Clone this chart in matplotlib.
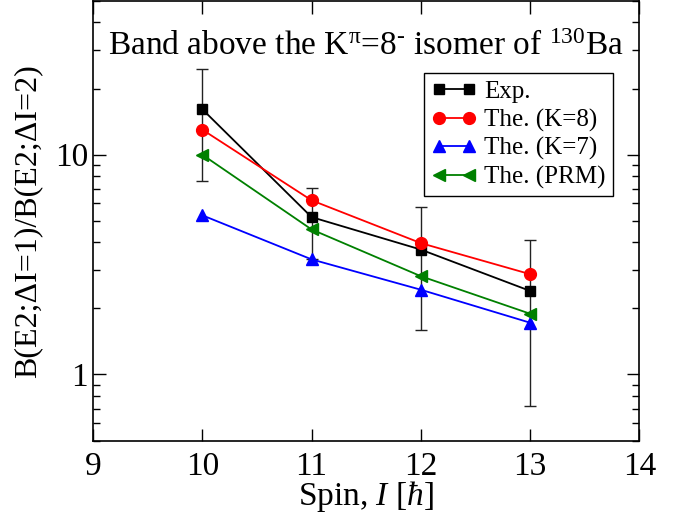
import numpy as np
import matplotlib
matplotlib.use("Agg")
import matplotlib.pyplot as plt
from matplotlib.ticker import LogLocator, NullFormatter, FixedLocator, FixedFormatter

plt.rcParams['font.family'] = ['Liberation Serif', 'DejaVu Serif']
plt.rcParams['mathtext.fontset'] = 'custom'
plt.rcParams['mathtext.rm'] = 'Liberation Serif'
plt.rcParams['mathtext.it'] = 'Liberation Serif:italic'

spin = [10, 11, 12, 13]
exp_val = [16.1, 5.2, 3.7, 2.4]
exp_err = [8.5, 1.85, 2.1, 1.68]
the_k8 = [13.0, 6.2, 3.96, 2.86]
the_k7 = [5.3, 3.34, 2.43, 1.72]
the_prm = [10.0, 4.57, 2.80, 1.89]

fig = plt.figure(figsize=(6.89, 5.16), dpi=100)
ax = fig.add_axes([0.135, 0.146, 0.793, 0.852])

ax.errorbar(spin, exp_val, yerr=exp_err, fmt='none', ecolor='#222222',
            elinewidth=1.0, capsize=4.5, capthick=1.0, zorder=2)
ax.plot(spin, exp_val, '-s', color='black', lw=1.3, ms=7.5, label='Exp.', zorder=3)
ax.plot(spin, the_k8, '-o', color='red', lw=1.3, ms=8.5, label='The. (K=8)', zorder=4)
ax.plot(spin, the_k7, '-^', color='blue', lw=1.3, ms=8, label='The. (K=7)', zorder=3)
ax.plot(spin, the_prm, '-<', color='green', lw=1.3, ms=8, label='The. (PRM)', zorder=3)

ax.set_yscale('log')
ax.set_xlim(9, 14)
ax.set_ylim(0.5, 50)
ax.set_xticks([9, 10, 11, 12, 13, 14])
ax.yaxis.set_major_locator(FixedLocator([1, 10]))
ax.yaxis.set_major_formatter(FixedFormatter(['1', '10']))
ax.yaxis.set_minor_locator(LogLocator(base=10, subs=np.arange(2, 10), numticks=20))
ax.yaxis.set_minor_formatter(NullFormatter())

ax.tick_params(which='both', direction='in', top=True, right=True, labelsize=24, width=1.0)
ax.tick_params(which='major', length=9)
ax.tick_params(which='minor', length=5)
ax.tick_params(axis='x', pad=8)
for s in ax.spines.values():
    s.set_linewidth(1.2)

ax.set_xlabel('Spin, $I$ [$\\hbar$]', fontsize=24, labelpad=-2)
ax.set_ylabel('B(E2;\u0394I=1)/B(E2;\u0394I=2)', fontsize=23, labelpad=9)

ax.text(0.5, 0.877, 'Band above the K$^{\\mathrm{\u03c0}}$=8$^{\\mathrm{\u2010}}$ isomer of $^{130}$Ba',
        transform=ax.transAxes, ha='center', va='baseline', fontsize=24)

leg = ax.legend(loc='upper right', bbox_to_anchor=(0.952, 0.836), borderaxespad=0,
                fontsize=18, numpoints=2, handlelength=1.8, handletextpad=0.3,
                labelspacing=0.22, borderpad=0.3, fancybox=False, framealpha=1,
                edgecolor='black')
leg.get_frame().set_linewidth(1.0)

fig.savefig('out.png', dpi=100)
